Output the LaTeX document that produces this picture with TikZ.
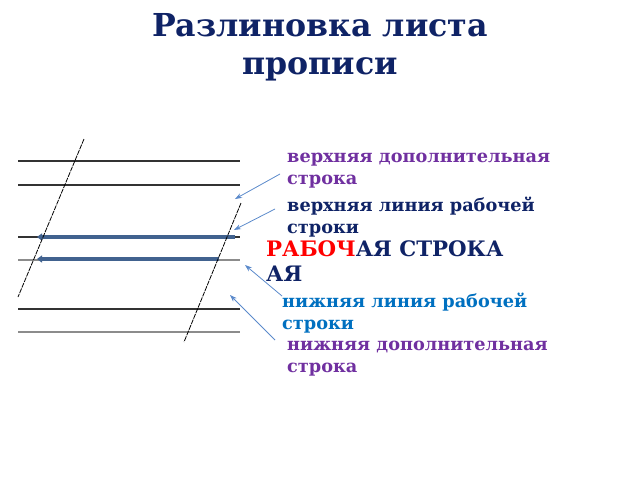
\documentclass[tikz,border=0pt]{standalone}
\usepackage{fontspec}
\setmainfont{DejaVu Serif}
\usetikzlibrary{arrows.meta}
\definecolor{navy}{HTML}{0F2366}
\definecolor{lblpurple}{HTML}{7030A0}
\definecolor{lblblue}{HTML}{0070C0}
\definecolor{thickblue}{HTML}{41628F}
\definecolor{pointer}{HTML}{5B8ACB}
\definecolor{ruleA}{HTML}{333333}
\definecolor{ruleB}{HTML}{8C8C8C}
\tikzset{
  rulerdark/.style={draw=ruleA, line width=1.3pt},
  rulerlight/.style={draw=ruleB, line width=1.3pt},
  slant/.style={draw=black, line width=0.8pt, dash pattern=on 5pt off 1pt},
  thick line/.style={draw=thickblue, line width=4pt, -{Triangle[length=5pt,width=7pt]}},
  pointer arrow/.style={draw=pointer, line width=0.8pt, -{Stealth[length=7pt,width=5pt]}},
  lbl/.style={anchor=north west, inner sep=0pt, align=left, font=\bfseries\fontsize{17.7}{21.5}\selectfont},
}
\begin{document}
\begin{tikzpicture}[x=1pt,y=-1pt]
\useasboundingbox (0,0) rectangle (640,480);
% title
\node[font=\bfseries\fontsize{31.6}{38}\selectfont, text=navy, align=center, inner sep=0pt] (title) at (320,47) {Разлиновка листа\\прописи};
% horizontal rules
\coordinate (r1a) at (18,161); \coordinate (r1b) at (240,161);
\coordinate (r2a) at (18,185); \coordinate (r2b) at (240,185);
\coordinate (r3a) at (18,237); \coordinate (r3b) at (240,237);
\coordinate (r4a) at (18,260); \coordinate (r4b) at (240,260);
\coordinate (r5a) at (18,309); \coordinate (r5b) at (240,309);
\coordinate (r6a) at (18,332); \coordinate (r6b) at (240,332);
\draw[rulerdark] (r1a) -- (r1b);
\draw[rulerdark] (r2a) -- (r2b);
\draw[rulerdark] (r3a) -- (r3b);
\draw[rulerlight] (r4a) -- (r4b);
\draw[rulerdark] (r5a) -- (r5b);
\draw[rulerlight] (r6a) -- (r6b);
% thick working lines
\coordinate (t1a) at (235,237); \coordinate (t1b) at (37,237);
\coordinate (t2a) at (219,259); \coordinate (t2b) at (37,259);
\draw[thick line] (t1a) -- (t1b);
\draw[thick line] (t2a) -- (t2b);
% slanted lines
\coordinate (s1a) at (84,139); \coordinate (s1b) at (18,297);
\coordinate (s2a) at (241,203); \coordinate (s2b) at (184,342);
\draw[slant] (s1a) -- (s1b);
\draw[slant] (s2a) -- (s2b);
% labels
\node[lbl, text=lblpurple] (l1) at (287,153) {верхняя дополнительная\\строка};
\node[lbl, text=navy] (l2) at (287,197) {верхняя линия рабочей\\строки};
\node[anchor=north west, inner sep=0pt, align=left, font=\bfseries\fontsize{21.3}{25}\selectfont, text=navy] (l3) at (266,240) {\textcolor{red}{РАБОЧ}АЯ СТРОКА\\АЯ};
\node[lbl, text=lblblue] (l4) at (282,293) {нижняя линия рабочей\\строки};
\node[lbl, text=lblpurple] (l5) at (287,341) {нижняя дополнительная\\строка};
% pointers
\coordinate (p1) at (235,199);
\coordinate (p2) at (234,230);
\coordinate (p3) at (245,265);
\coordinate (p4) at (230,295);
\draw[pointer arrow] (l1.west |- 0,174) ++(-7,0) -- (p1);
\draw[pointer arrow] (l2.west |- 0,209) ++(-12,0) -- (p2);
\draw[pointer arrow] (l4.west |- 0,296) ++(0,0) -- (p3);
\draw[pointer arrow] (l5.west |- 0,340) ++(-12,0) -- (p4);
\end{tikzpicture}
\end{document}
